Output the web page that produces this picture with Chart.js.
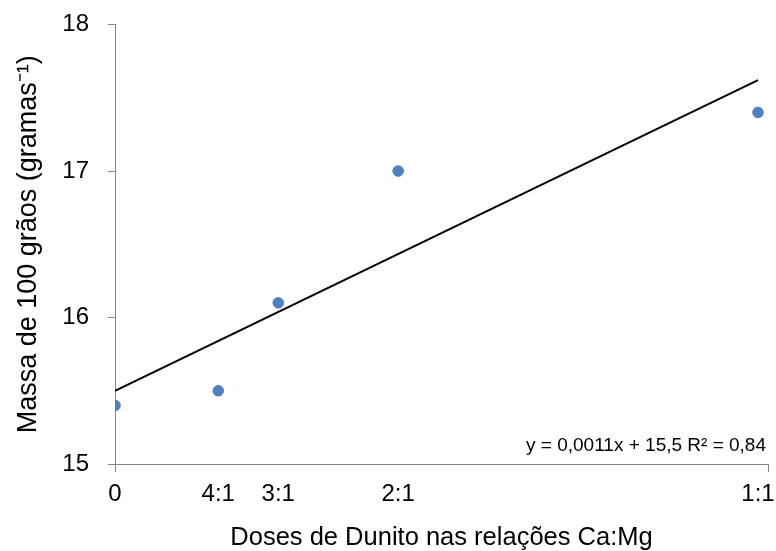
<!DOCTYPE html>
<html lang="pt">
<head>
<meta charset="utf-8">
<script src="https://cdn.jsdelivr.net/npm/chart.js@4/dist/chart.umd.min.js"></script>
<style>
  html, body { margin: 0; padding: 0; background: #fff; }
  #wrap { width: 776px; height: 551px; }
</style>
</head>
<body>
<div id="wrap"><canvas id="dunito-chart" width="776" height="551"></canvas></div>
<script>
/* global Chart */
const doseLabels = ['0', '4:1', '3:1', '2:1', '1:1'];
const doseValues = [0, 310, 490, 850, 1930];
const massValues = [15.4, 15.5, 16.1, 17.0, 17.4];
const trendX = [0, 1930];
const trendY = [15.5, 17.62];
const xMax = 1960;
const yTicks = [15, 16, 17, 18];
const equationText = 'y = 0,0011x + 15,5 R² = 0,84';

const FONT = '"Liberation Sans", Arial, sans-serif';
const AXIS_GRAY = '#868686';

const equationPlugin = {
    id: 'equation',
    afterDraw(chart) {
        const { ctx, chartArea } = chart;
        ctx.save();
        ctx.font = '19px ' + FONT;
        ctx.fillStyle = '#000';
        ctx.textAlign = 'right';
        ctx.textBaseline = 'middle';
        ctx.fillText(equationText, chartArea.right - 2, chartArea.bottom - 18);
        ctx.restore();
    }
};

const ctx = document.getElementById('dunito-chart').getContext('2d');

new Chart(ctx, {
    type: 'scatter',
    data: {
        datasets: [
            {
                label: 'Massa',
                data: doseValues.map((x, i) => ({ x: x, y: massValues[i] })),
                backgroundColor: '#4F81BD',
                borderColor: '#4F81BD',
                pointRadius: 5.3,
                order: 1
            },
            {
                label: 'Linear',
                data: trendX.map((x, i) => ({ x: x, y: trendY[i] })),
                showLine: true,
                borderColor: '#000',
                borderWidth: 2,
                pointRadius: 0,
                order: 2
            }
        ]
    },
    options: {
        responsive: false,
        animation: false,
        layout: { padding: { top: 24.5, right: 2, bottom: 0, left: 0 } },
        plugins: {
            legend: { display: false },
            tooltip: { enabled: false }
        },
        scales: {
            x: {
                type: 'linear',
                min: 0,
                max: xMax,
                afterBuildTicks(scale) {
                    scale.ticks = doseValues.concat([xMax]).map(v => ({ value: v }));
                },
                afterFit(scale) { scale.height = 87; },
                ticks: {
                    autoSkip: false,
                    maxRotation: 0,
                    padding: 8,
                    color: '#000',
                    font: { family: FONT, size: 24 },
                    callback(value) {
                        const i = doseValues.indexOf(value);
                        return i >= 0 ? doseLabels[i] : '';
                    }
                },
                grid: {
                    drawOnChartArea: false,
                    tickLength: 8,
                    tickColor: c => (c.tick && (c.tick.value === 0 || c.tick.value === xMax)) ? AXIS_GRAY : 'rgba(0,0,0,0)'
                },
                border: { color: AXIS_GRAY, width: 1 },
                title: {
                    display: true,
                    text: 'Doses de Dunito nas relações Ca:Mg',
                    color: '#000',
                    font: { family: FONT, size: 25.5, lineHeight: 1 },
                    padding: { top: 0, bottom: 0 }
                }
            },
            y: {
                min: 15,
                max: 18,
                afterBuildTicks(scale) {
                    scale.ticks = yTicks.map(v => ({ value: v }));
                },
                afterFit(scale) { scale.width = 115; },
                ticks: {
                    padding: 19,
                    color: '#000',
                    font: { family: FONT, size: 24, lineHeight: 0.2 }
                },
                grid: {
                    drawOnChartArea: false,
                    tickLength: 7,
                    tickColor: AXIS_GRAY
                },
                border: { color: AXIS_GRAY, width: 1 },
                title: {
                    display: true,
                    text: 'Massa de 100 grãos (gramas⁻¹)',
                    color: '#000',
                    font: { family: FONT, size: 27, lineHeight: 1.2 },
                    padding: { top: 12.5, bottom: 0 }
                }
            }
        }
    },
    plugins: [equationPlugin]
});
</script>
</body>
</html>
